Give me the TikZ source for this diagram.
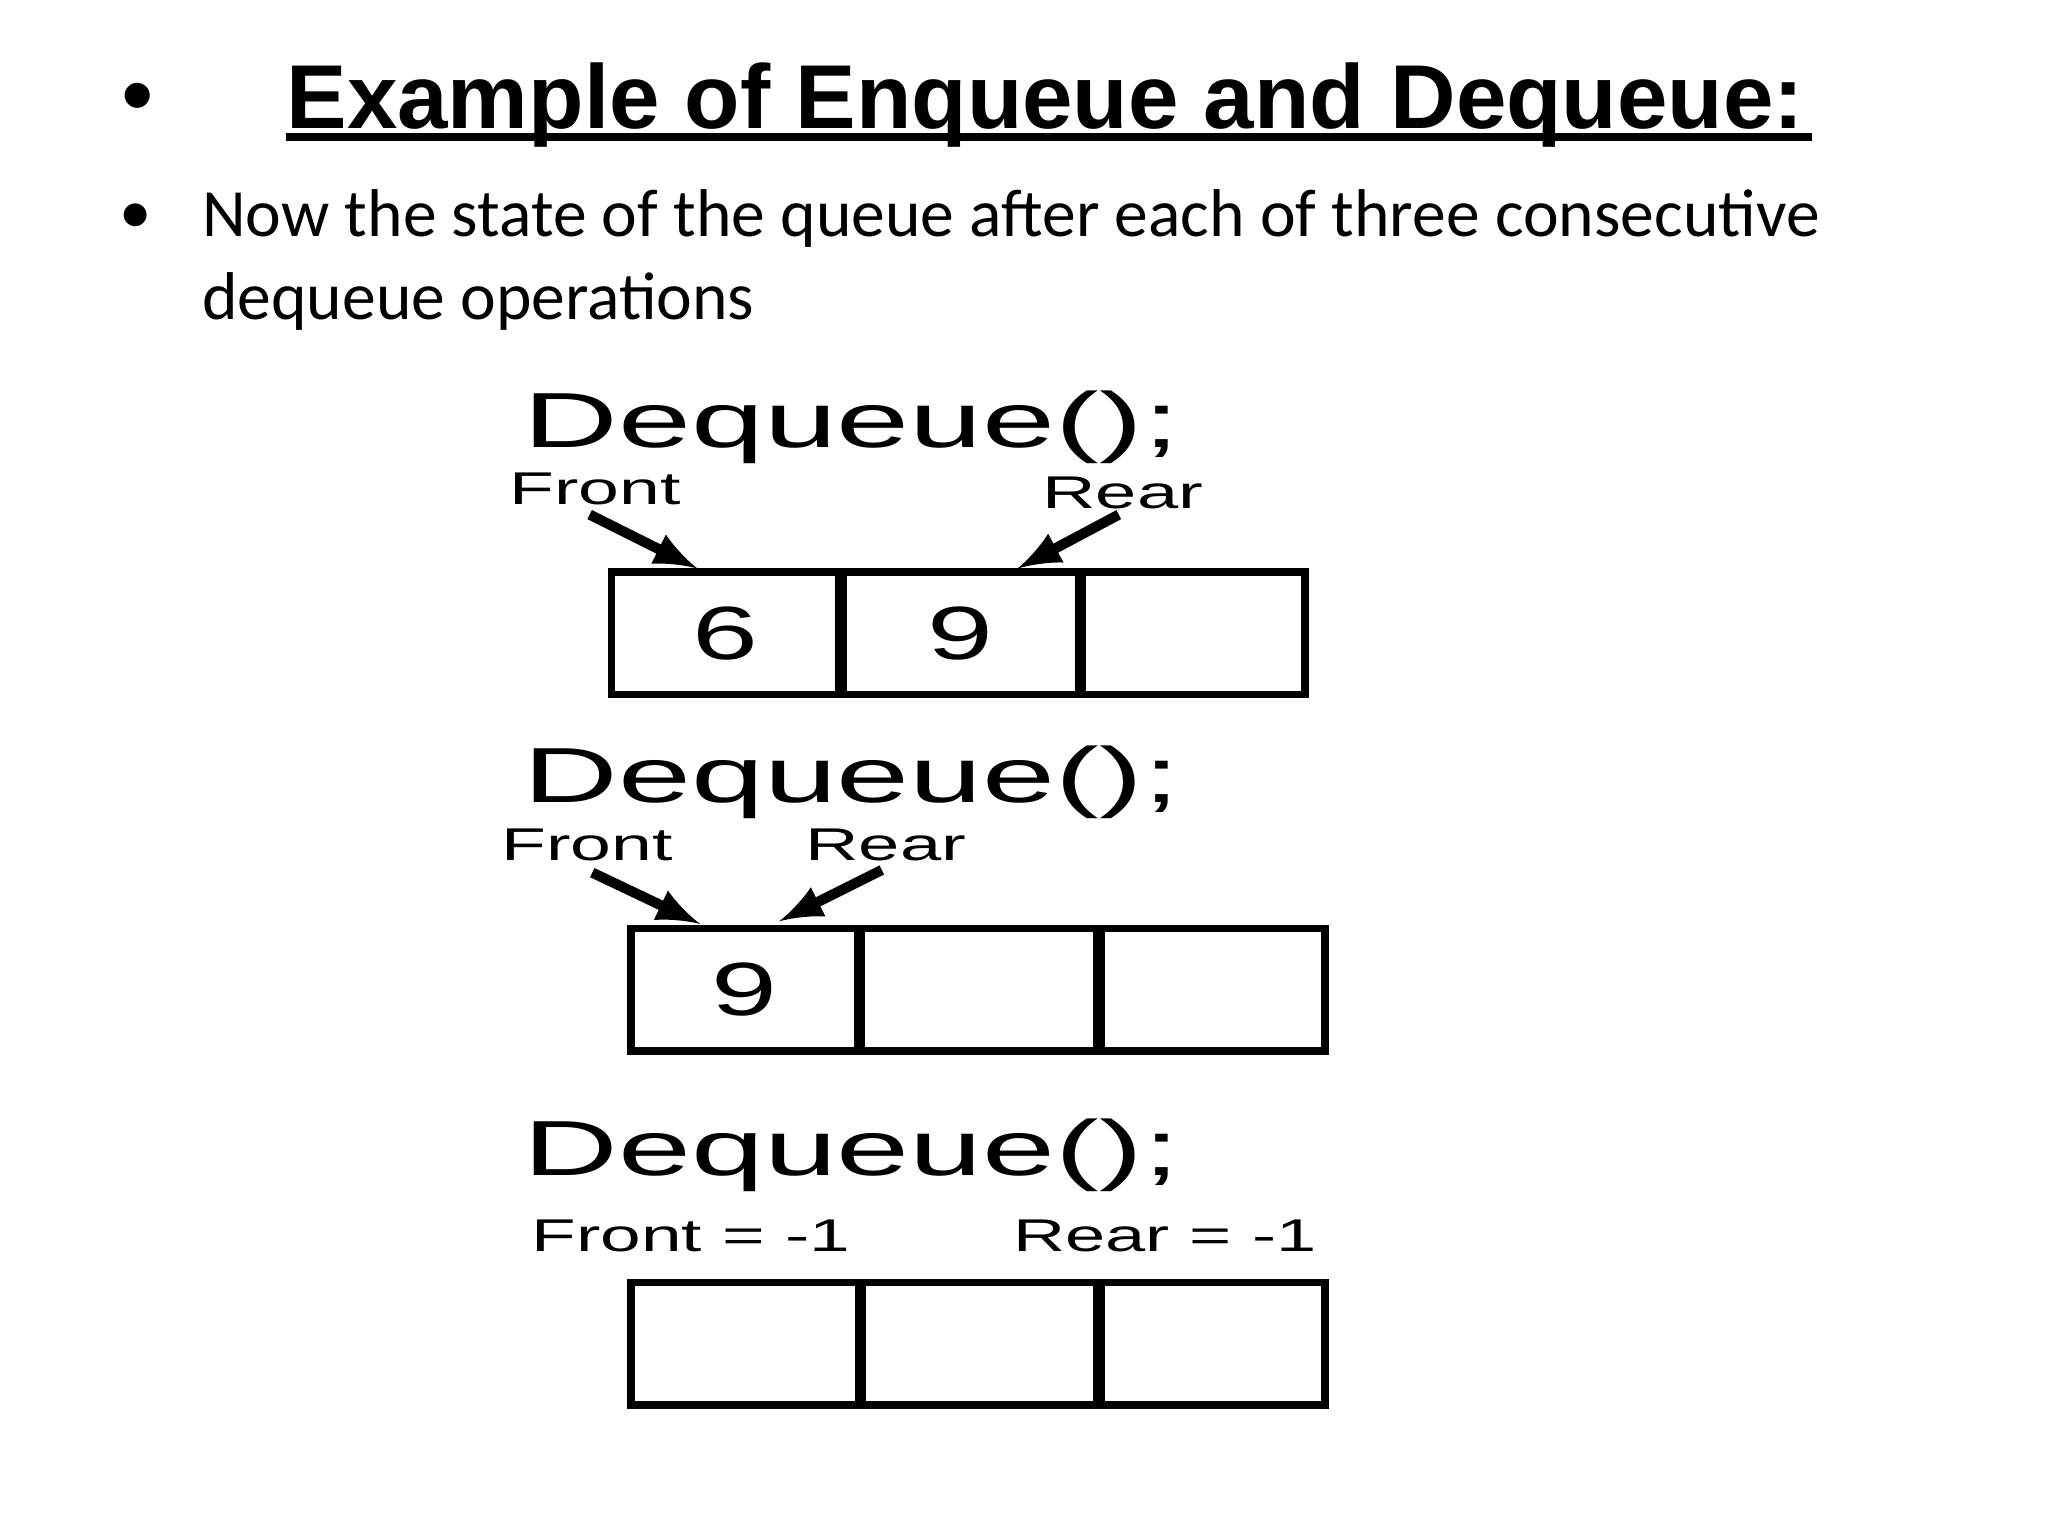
\documentclass[tikz,border=0pt]{standalone}
\usepackage{fontspec}
\setmainfont{Liberation Sans}
\newfontfamily\bodyfont{Carlito}
\usetikzlibrary{positioning}
\tikzset{
  cell/.style={draw, line width=1.6pt, minimum height=0.93cm, inner sep=0pt, outer sep=0pt},
  cmd/.style={inner sep=0pt, anchor=base},
  ptr/.style={inner sep=0pt, anchor=base},
  body/.style={inner sep=0pt, anchor=base west, font=\bodyfont\fontsize{14.6}{17}\selectfont},
  ptrarrow/.style={-latex, line width=2.2pt}
}
\newcommand{\cmdtext}{\resizebox{4.98cm}{0.43cm}{Dequeue();}}
\newcommand{\numtext}[1]{\resizebox{0.5cm}{0.4cm}{#1}}
\begin{document}
\begin{tikzpicture}[x=0.01cm, y=-0.01cm]
    \useasboundingbox (0,0) rectangle (1556,1167);
    % heading
    \node[inner sep=0pt] (b1) at (105,80) {\fontsize{20}{24}\selectfont\textbullet};
    \node[inner sep=0pt, anchor=base west] (title) at (217,98) {\fontsize{19.6}{23}\selectfont\bfseries Example of Enqueue and Dequeue:};
    \draw[line width=1.6pt] (title.base west) ++(0,6) -- ++(1160,0);
    \node[inner sep=0pt] (b2) at (103,166) {\bodyfont\fontsize{14}{17}\selectfont\textbullet};
    \node[body] (intro1) at (153,180) {Now the state of the queue after each of three consecutive};
    \node[body] (intro2) at (153,243) {dequeue operations};

    % first dequeue
    \node[cmd] (d1) at (647,340) {\cmdtext};
    \node[ptr] (f1) at (452,383) {\resizebox{1.3cm}{0.24cm}{Front}};
    \node[ptr] (r1) at (853,386) {\resizebox{1.22cm}{0.24cm}{Rear}};
    \node[cell, minimum width=1.73cm] (a1) at (551,481) {\numtext{6}};
    \node[cell, minimum width=1.79cm] (a2) at (730,481) {\numtext{9}};
    \node[cell, minimum width=1.69cm] (a3) at (907,481) {};
    \coordinate (f1t) at (530,432);
    \coordinate (r1t) at (773,432);
    \draw[ptrarrow] (448,391) -- (f1t);
    \draw[ptrarrow] (850,391) -- (r1t);

    % second dequeue
    \node[cmd] (d2) at (647,610) {\cmdtext};
    \node[ptr] (f2) at (446,654) {\resizebox{1.3cm}{0.24cm}{Front}};
    \node[ptr] (r2) at (673,654) {\resizebox{1.22cm}{0.24cm}{Rear}};
    \node[cell, minimum width=1.72cm] (b1c) at (565.5,752) {\numtext{9}};
    \node[cell, minimum width=1.79cm] (b2c) at (744,752) {};
    \node[cell, minimum width=1.70cm] (b3c) at (921.5,752) {};
    \coordinate (f2t) at (532,702);
    \coordinate (r2t) at (592,700);
    \draw[ptrarrow] (450,663) -- (f2t);
    \draw[ptrarrow] (670,661) -- (r2t);

    % third dequeue
    \node[cmd] (d3) at (647,893) {\cmdtext};
    \node[ptr] (f3) at (525,951) {\resizebox{2.42cm}{0.24cm}{Front = -1}};
    \node[ptr] (r3) at (885,951) {\resizebox{2.3cm}{0.24cm}{Rear = -1}};
    \node[cell, minimum width=1.73cm] (c1) at (566,1021) {};
    \node[cell, minimum width=1.78cm] (c2) at (744.5,1021) {};
    \node[cell, minimum width=1.70cm] (c3) at (921.5,1021) {};
\end{tikzpicture}
\end{document}
